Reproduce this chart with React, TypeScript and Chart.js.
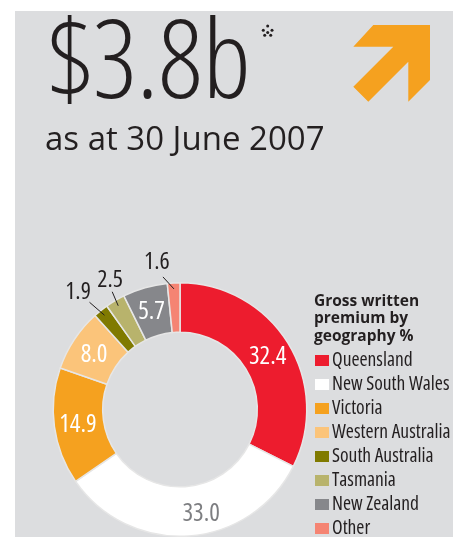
import React, { useEffect, useRef } from "react";
import { Chart, registerables } from "chart.js";

Chart.register(...registerables);

const categories = [
  "Queensland",
  "New South Wales",
  "Victoria",
  "Western Australia",
  "South Australia",
  "Tasmania",
  "New Zealand",
  "Other",
];
const shares = [32.4, 33.0, 14.9, 8.0, 1.9, 2.5, 5.7, 1.6];
const valueLabels = ["32.4", "33.0", "14.9", "8.0", "1.9", "2.5", "5.7", "1.6"];
const sliceColors = [
  "#ED1C2E",
  "#FFFFFF",
  "#F5A11F",
  "#FBC47A",
  "#807A00",
  "#B8B36C",
  "#86878B",
  "#F58473",
];
const headline = "$3.8b";
const subline = "as at 30 June 2007";
const legendTitle = ["Gross written", "premium by", "geography %"];

const FONT = '"Open Sans", "Noto Sans", sans-serif';
const INK = "#231F20";

type LabelStyle = {
  color?: string;
  dx?: number;
  outside?: boolean;
  lead?: [number, number];
  text?: [number, number];
};

const labelStyles: Record<string, LabelStyle> = {
  "New South Wales": { color: "#7D7E81", dx: 14 },
  "South Australia": { outside: true, lead: [-15, -13], text: [-11.5, -11.5] },
  Tasmania: { outside: true, lead: [-6, -14], text: [-2, -13] },
  Other: { outside: true, lead: [-11, -12], text: [-6, -16] },
};

function setFont(ctx: any, fs: number, weight = 400) {
  ctx.font = `${weight} condensed ${fs}px ${FONT}`;
  try {
    ctx.fontStretch = "condensed";
  } catch (e) {}
}

const labelPlugin = {
  id: "sliceLabels",
  afterDatasetsDraw(chart: any) {
    const ctx = chart.ctx;
    const meta = chart.getDatasetMeta(0);
    meta.data.forEach((arc: any, i: number) => {
      const p = arc.getProps(
        ["x", "y", "startAngle", "endAngle", "innerRadius", "outerRadius"],
        true
      );
      const mid = (p.startAngle + p.endAngle) / 2;
      const st = labelStyles[categories[i]] || {};
      ctx.save();
      ctx.textAlign = "center";
      ctx.textBaseline = "alphabetic";
      if (st.outside && st.lead && st.text) {
        const r0 = p.outerRadius - 6;
        const sx = p.x + Math.cos(mid) * r0;
        const sy = p.y + Math.sin(mid) * r0;
        const ex = sx + st.lead[0];
        const ey = sy + st.lead[1];
        ctx.strokeStyle = INK;
        ctx.lineWidth = 1;
        ctx.beginPath();
        ctx.moveTo(sx, sy);
        ctx.lineTo(ex, ey);
        ctx.stroke();
        const fs = 24;
        setFont(ctx, fs);
        ctx.fillStyle = INK;
        ctx.fillText(valueLabels[i], ex + st.text[0], ey + st.text[1] + 0.357 * fs);
      } else {
        const r = (p.innerRadius + p.outerRadius) / 2 + 1;
        const cx = p.x + Math.cos(mid) * r + (st.dx || 0);
        const cy = p.y + Math.sin(mid) * r;
        const fs = 25;
        setFont(ctx, fs);
        ctx.fillStyle = st.color || "#FFFFFF";
        ctx.fillText(valueLabels[i], cx, cy + 0.357 * fs);
      }
      ctx.restore();
    });
  },
};

const abs = (s: React.CSSProperties): React.CSSProperties => ({ position: "absolute", ...s });

export default function App() {
  const canvasRef = useRef<HTMLCanvasElement | null>(null);

  useEffect(() => {
    if (!canvasRef.current) return;
    const chart = new Chart(canvasRef.current, {
      type: "doughnut",
      data: {
        labels: categories,
        datasets: [
          {
            data: shares,
            backgroundColor: sliceColors,
            borderColor: "#E6E6E6",
            borderWidth: 1.5,
          },
        ],
      },
      options: {
        responsive: false,
        animation: false,
        cutout: "61%",
        layout: { padding: { left: 52, right: 150, top: 282, bottom: -2 } },
        plugins: { legend: { display: false }, tooltip: { enabled: false } },
      },
      plugins: [labelPlugin],
    } as any);
    return () => chart.destroy();
  }, []);

  const dots = [
    [267.7, 26],
    [263.3, 30.2],
    [272, 30.2],
    [267.7, 32.5],
    [264.7, 35.3],
    [270.7, 35.3],
  ];

  return (
    <div style={abs({ left: 0, top: 0, width: 458, height: 537, overflow: "hidden", background: "#FFFFFF" })}>
      <div style={abs({ left: 15, top: 11, width: 438, height: 526, background: "#DCDDDF" })} />
      <canvas ref={canvasRef} width={458} height={537} style={abs({ left: 0, top: 0, width: 458, height: 537 })} />
      <svg width={458} height={537} style={abs({ left: 0, top: 0 })} fontFamily={FONT} fill={INK}>
        <polygon
          points="373.3,25 430,25 430,80 408.3,101.7 408.3,61.7 368.3,101.7 353.3,86.7 393.3,46.7 353.3,46.7"
          fill="#F5A11F"
        />
        {dots.map((d, i) => (
          <circle key={i} cx={d[0]} cy={d[1]} r={1.5} fill={INK} />
        ))}
        <text x={48} y={98} fontSize={109} fontWeight={300} style={{ fontStretch: "condensed" }}>
          {headline}
        </text>
        <text x={45} y={150} fontSize={33} fontWeight={400}>
          {subline}
        </text>
        {legendTitle.map((t, i) => (
          <text key={t} x={314} y={306 + i * 17.3} fontSize={15.5} fontWeight={700}>
            {t}
          </text>
        ))}
        {categories.map((c, i) => (
          <React.Fragment key={c}>
            <rect x={315} y={355 + i * 24} width={14} height={11} fill={sliceColors[i]} />
            <text x={332} y={366 + i * 24} fontSize={19.5} style={{ fontStretch: "condensed" }}>
              {c}
            </text>
          </React.Fragment>
        ))}
      </svg>
    </div>
  );
}
